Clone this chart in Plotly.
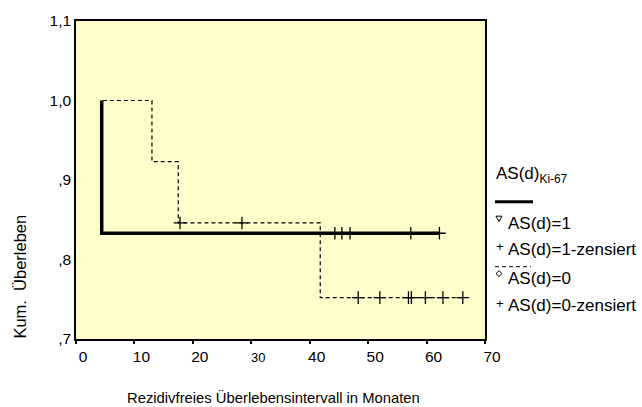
import plotly.graph_objects as go

# Kaplan-Meier step vertices, AS(d)=1 (thick solid)
as1_time = [4.4, 4.4, 62.2]
as1_surv = [1.0, 0.833, 0.833]
# censored cases, AS(d)=1
as1_cens_time = [44.3, 45.5, 46.9, 57.3, 62.2]
as1_cens_surv = [0.833, 0.833, 0.833, 0.833, 0.833]

# Kaplan-Meier step vertices, AS(d)=0 (dashed)
as0_time = [4.6, 13.0, 17.5, 41.8, 66.2]
as0_surv = [1.0, 0.923, 0.846, 0.752, 0.752]
# censored cases, AS(d)=0
as0_cens_time = [17.8, 28.4, 48.3, 52.0, 56.9, 57.4, 59.8, 62.8, 66.2]
as0_cens_surv = [0.846, 0.846, 0.752, 0.752, 0.752, 0.752, 0.752, 0.752, 0.752]

x_ticks = [0, 10, 20, 30, 40, 50, 60, 70]
x_tick_text = ["0", "10", "20", "<span style='font-size:13px'>30</span>", "40", "50", "60", "70"]
y_ticks = [0.7, 0.8, 0.9, 1.0, 1.1]
y_tick_text = [",7", ",8", ",9", "1,0", "1,1"]

FONT = "Liberation Sans, Arial, sans-serif"
W, H = 642, 407
L, R, T, B = 76, 485, 18, 339


def px(x):
    return (x - L) / (R - L)


def py(y):
    return (B - y) / (B - T)


def poly_path(points):
    return "M " + " L ".join(f"{px(x):.5f},{py(y):.5f}" for x, y in points) + " Z"


fig = go.Figure()

fig.add_trace(go.Scatter(
    x=as1_time, y=as1_surv, mode="lines",
    line=dict(color="black", width=3.5), showlegend=False, hoverinfo="skip"))
fig.add_trace(go.Scatter(
    x=as1_cens_time, y=as1_cens_surv, mode="markers",
    marker=dict(symbol="cross-thin", size=9, line=dict(color="black", width=1.3)),
    showlegend=False, hoverinfo="skip"))

fig.add_trace(go.Scatter(
    x=as0_time, y=as0_surv, mode="lines", line_shape="hv",
    line=dict(color="black", width=1.2, dash="4px,3px"), showlegend=False, hoverinfo="skip"))
fig.add_trace(go.Scatter(
    x=as0_cens_time, y=as0_cens_surv, mode="markers",
    marker=dict(symbol="cross-thin", size=9, line=dict(color="black", width=1.3)),
    showlegend=False, hoverinfo="skip"))

LEG = 17
annotations = [
    dict(text="Rezidivfreies Überlebensintervall in Monaten", x=px(273), y=py(398),
         xanchor="center", yanchor="middle", font=dict(size=14.8)),
    dict(text="Kum.  Überleben", x=px(20), y=py(276), textangle=-90,
         xanchor="center", yanchor="middle", font=dict(size=16.5)),
    dict(text="AS(d)<sub>Ki-67</sub>", x=px(494), y=py(173),
         xanchor="left", yanchor="middle", font=dict(size=LEG)),
    dict(text="AS(d)=1", x=px(506), y=py(222), xanchor="left", yanchor="middle", font=dict(size=LEG)),
    dict(text="+", x=px(494), y=py(246), xanchor="left", yanchor="middle", font=dict(size=13)),
    dict(text="AS(d)=1-zensiert", x=px(506), y=py(249), xanchor="left", yanchor="middle", font=dict(size=LEG)),
    dict(text="AS(d)=0", x=px(506), y=py(278), xanchor="left", yanchor="middle", font=dict(size=LEG)),
    dict(text="+", x=px(494), y=py(303), xanchor="left", yanchor="middle", font=dict(size=13)),
    dict(text="AS(d)=0-zensiert", x=px(506), y=py(305), xanchor="left", yanchor="middle", font=dict(size=LEG)),
]
for a in annotations:
    a.update(xref="paper", yref="paper", showarrow=False)

shapes = [
    # legend line keys
    dict(type="line", xref="paper", yref="paper", x0=px(495), x1=px(533), y0=py(200.5), y1=py(200.5),
         line=dict(color="black", width=3)),
    dict(type="line", xref="paper", yref="paper", x0=px(495), x1=px(531), y0=py(266), y1=py(266),
         line=dict(color="black", width=1, dash="4px,3px")),
    # legend event symbols: open down-triangle and open diamond
    dict(type="path", xref="paper", yref="paper",
         path=poly_path([(496, 215), (502, 215), (499, 220.5)]),
         line=dict(color="black", width=1), fillcolor="rgba(0,0,0,0)"),
    dict(type="path", xref="paper", yref="paper",
         path=poly_path([(499, 270), (502, 273), (499, 276), (496, 273)]),
         line=dict(color="black", width=1), fillcolor="rgba(0,0,0,0)"),
]

fig.update_layout(
    width=W, height=H,
    margin=dict(l=L, r=W - R, t=T, b=H - B, pad=0),
    paper_bgcolor="white", plot_bgcolor="#FFFFCC",
    font=dict(family=FONT, size=15.5, color="black"),
    annotations=annotations, shapes=shapes,
    showlegend=False,
)
fig.update_xaxes(
    range=[0, 70], tickvals=x_ticks, ticktext=x_tick_text,
    showline=True, linecolor="black", linewidth=1.5, mirror=True,
    ticks="outside", ticklen=3, tickwidth=2, tickcolor="black",
    ticklabelshift=7, showgrid=False, zeroline=False, fixedrange=True,
)
fig.update_yaxes(
    range=[0.7, 1.1], tickvals=y_ticks, ticktext=y_tick_text,
    showline=True, linecolor="black", linewidth=1.5, mirror=True,
    ticks="", showgrid=False, zeroline=False, fixedrange=True,
)

fig.write_html("out.html", config=dict(displayModeBar=False))
